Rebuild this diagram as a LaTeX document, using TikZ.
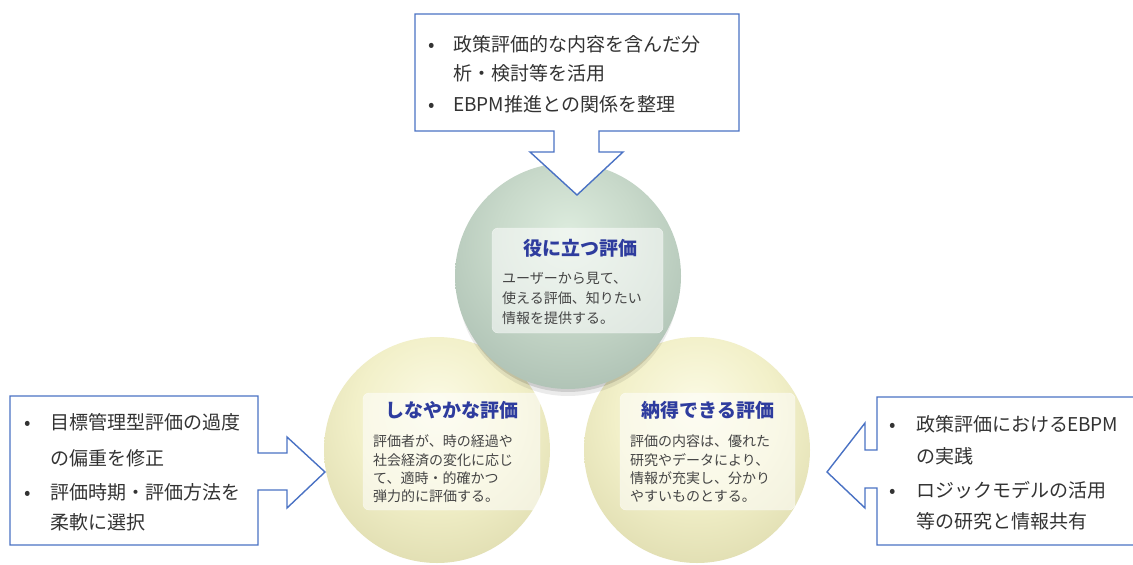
\documentclass[tikz,border=0pt]{standalone}
\usepackage{fontspec}
\setmainfont{Noto Sans CJK JP}
\definecolor{cline}{HTML}{4A72C4}
\definecolor{ctxt}{HTML}{333333}
\definecolor{btxt}{HTML}{454545}
\definecolor{ttl}{HTML}{2E3C9E}
\definecolor{gA}{HTML}{DCEBDD}
\definecolor{gB}{HTML}{C8D9CA}
\definecolor{gC}{HTML}{A9BDB0}
\definecolor{gD}{HTML}{86998F}
\definecolor{yA}{HTML}{FBFAE4}
\definecolor{yB}{HTML}{F2F0C9}
\definecolor{yC}{HTML}{DAD7A9}
\definecolor{yD}{HTML}{B3AF86}
\pgfdeclareradialshading{greenball}{\pgfpoint{0bp}{10bp}}{color(0bp)=(gA); color(16bp)=(gB); color(36bp)=(gC); color(56bp)=(gD); color(80bp)=(gD)}
\pgfdeclareradialshading{yellowball}{\pgfpoint{0bp}{10bp}}{color(0bp)=(yA); color(18bp)=(yB); color(38bp)=(yC); color(58bp)=(yD); color(80bp)=(yD)}
\tikzset{
  callout/.style={draw=cline,line width=1.4pt,fill=white,line join=miter},
  ctext/.style={font=\fontsize{19}{23}\selectfont,text=ctxt,inner sep=0pt,anchor=base west},
  bul/.style={font=\fontsize{19}{23}\selectfont,text=ctxt,inner sep=0pt,anchor=base},
  btext/.style={font=\fontsize{14}{17}\selectfont,text=btxt,inner sep=0pt,anchor=base west},
  ttext/.style={font=\bfseries\fontsize{19}{23}\selectfont,text=ttl,inner sep=0pt,anchor=base},
  tbox/.style={fill=white,fill opacity=0.55,rounded corners=6pt,draw=white,draw opacity=0.6},
}
\begin{document}
\begin{tikzpicture}[x=1pt,y=1pt]
\useasboundingbox (0,0) rectangle (1133,-565);
\fill[white] (0,0) rectangle (1133,-565);
% lower balls
\shade[shading=yellowball] (437,-450) circle (113);
\shade[shading=yellowball] (697,-450) circle (113);
% shadow of top ball
\fill[black,opacity=0.08] (568,-286) circle (110);
\fill[black,opacity=0.12] (568,-282) circle (110);
% top ball
\shade[shading=greenball] (568,-276) circle (113);
% text boxes
\path[tbox] (492,-228) rectangle (663,-333);
\path[tbox] (363,-393) rectangle (540,-510);
\path[tbox] (620,-393) rectangle (795,-510);
% titles and bodies
\node[ttext] (t0) at (580,-255) {役に立つ評価};
\node[btext] (t0a) at (502,-283) {ユーザーから見て、};
\node[btext] (t0b) at (502,-303) {使える評価、知りたい};
\node[btext] (t0c) at (502,-323) {情報を提供する。};
\node[ttext] (t1) at (452,-417) {しなやかな評価};
\node[btext] (t1a) at (373,-446) {評価者が、時の経過や};
\node[btext] (t1b) at (373,-465) {社会経済の変化に応じ};
\node[btext] (t1c) at (373,-483) {て、適時・的確かつ};
\node[btext] (t1d) at (373,-501) {弾力的に評価する。};
\node[ttext] (t2) at (708,-417) {納得できる評価};
\node[btext] (t2a) at (630,-446) {評価の内容は、優れた};
\node[btext] (t2b) at (630,-465) {研究やデータにより、};
\node[btext] (t2c) at (630,-483) {情報が充実し、分かり};
\node[btext] (t2d) at (630,-501) {やすいものとする。};
% callouts
\draw[callout] (415,-14) -- (739,-14) -- (739,-131) -- (599,-131) -- (599,-152) -- (623,-152) -- (577,-195) -- (530,-152) -- (554,-152) -- (554,-131) -- (415,-131) -- cycle;
\draw[callout] (10,-396) -- (258,-396) -- (258,-453) -- (287,-453) -- (287,-437) -- (325,-472) -- (287,-508) -- (287,-490) -- (258,-490) -- (258,-545) -- (10,-545) -- cycle;
\fill[white] (1134,-397) -- (877,-397) -- (877,-450) -- (865,-450) -- (865,-423) -- (827,-472) -- (865,-508) -- (865,-488) -- (877,-488) -- (877,-545) -- (1134,-545) -- cycle;
\draw[callout,fill=none] (1134,-397) -- (877,-397) -- (877,-450) -- (865,-450) -- (865,-423) -- (827,-472) -- (865,-508) -- (865,-488) -- (877,-488) -- (877,-545) -- (1134,-545);
% callout texts
\node[bul] (b0) at (432,-51) {•};
\node[ctext] (c0a) at (453,-51) {政策評価的な内容を含んだ分};
\node[ctext] (c0b) at (453,-80) {析・検討等を活用};
\node[bul] (b1) at (432,-111) {•};
\node[ctext] (c0c) at (453,-111) {EBPM推進との関係を整理};
\node[bul] (b2) at (28,-429) {•};
\node[ctext] (c1a) at (50,-429) {目標管理型評価の過度};
\node[ctext] (c1b) at (50,-465) {の偏重を修正};
\node[bul] (b3) at (28,-499) {•};
\node[ctext] (c1c) at (50,-499) {評価時期・評価方法を};
\node[ctext] (c1d) at (50,-529) {柔軟に選択};
\node[bul] (b4) at (893,-431) {•};
\node[ctext] (c2a) at (916,-431) {政策評価における\kern-1pt EBPM};
\node[ctext] (c2b) at (916,-463) {の実践};
\node[bul] (b5) at (893,-497) {•};
\node[ctext] (c2c) at (916,-497) {ロジックモデルの活用};
\node[ctext] (c2d) at (916,-528) {等の研究と情報共有};
\end{tikzpicture}
\end{document}
